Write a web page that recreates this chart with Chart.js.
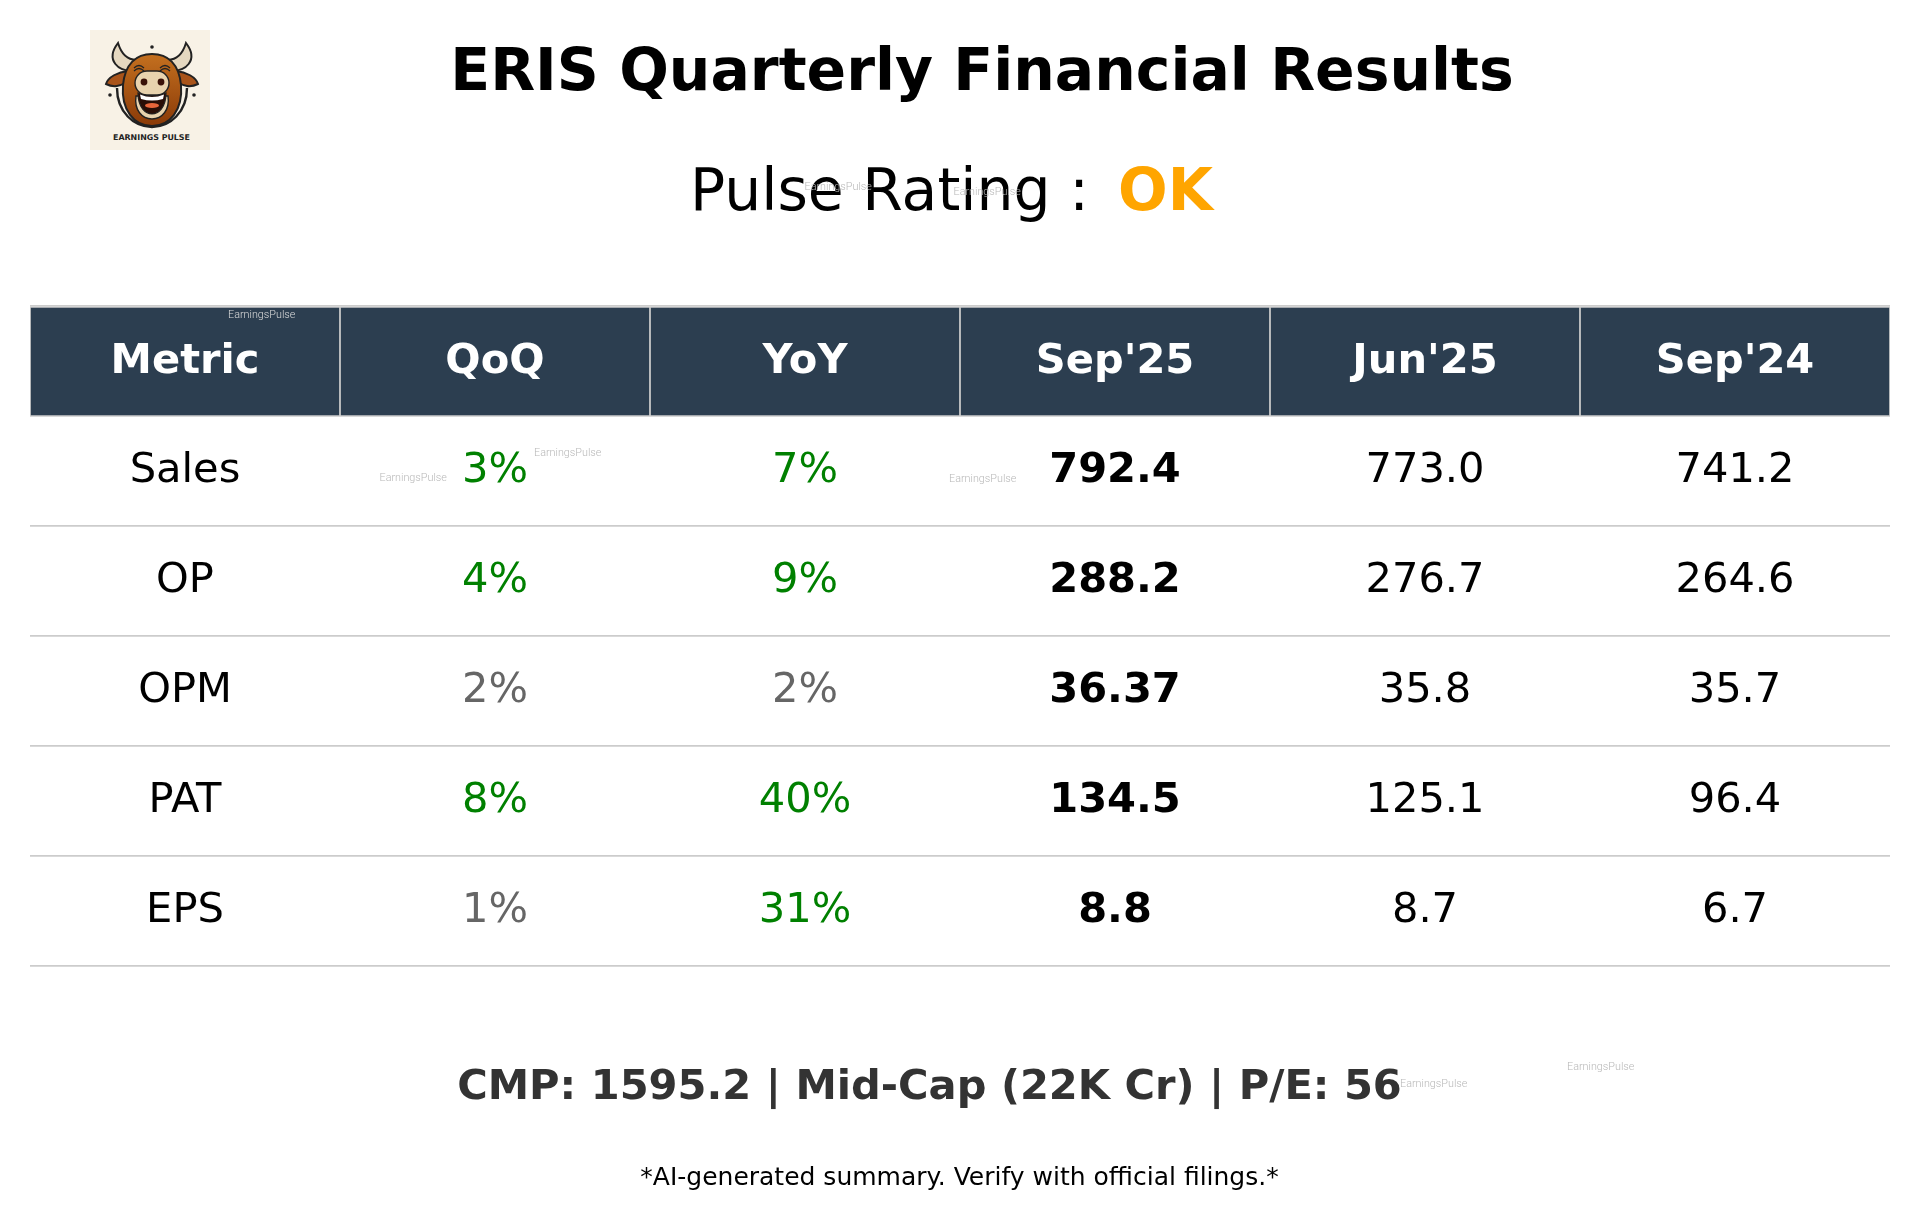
<!DOCTYPE html>
<html>
<head>
<meta charset="utf-8">
<title>ERIS Quarterly Financial Results</title>
<script src="https://cdn.jsdelivr.net/npm/chart.js@4"></script>
<style>
  html, body { margin: 0; padding: 0; background: #fff; }
  #wrap { position: relative; width: 1919px; height: 1220px; overflow: hidden; }
  #tableChart { position: absolute; left: 0; top: 0; }
  #logo { position: absolute; left: 90px; top: 30px; }
</style>
</head>
<body>
<div id="wrap">
  <canvas id="tableChart" width="1919" height="1220"></canvas>
  <svg id="logo" width="120" height="120" viewBox="0 0 120 120">
    <defs>
      <linearGradient id="face" x1="0" y1="0" x2="0" y2="1">
        <stop offset="0" stop-color="#c4701f"/>
        <stop offset="1" stop-color="#8a3a08"/>
      </linearGradient>
    </defs>
    <rect width="120" height="120" fill="#f8f2e6"/>
    <circle cx="62" cy="17" r="1.800" fill="#222"/>
    <circle cx="20" cy="65" r="1.800" fill="#222"/>
    <circle cx="104" cy="65" r="1.800" fill="#222"/>
    <path d="M28 13 C15 30 28 43 46 40 L52 29 C40 32 32 26 28 13Z" fill="#e5d8c0" stroke="#222" stroke-width="2"/>
    <path d="M96 13 C109 30 96 43 78 40 L72 29 C84 32 92 26 96 13Z" fill="#e5d8c0" stroke="#222" stroke-width="2"/>
    <path d="M38 41 C28 42 18 47 16 54 C24 58 30 56 37 52Z" fill="#a9541a" stroke="#222" stroke-width="2"/>
    <path d="M86 41 C96 42 106 47 108 54 C100 58 94 56 87 52Z" fill="#a9541a" stroke="#222" stroke-width="2"/>
    <path d="M27 58 C27 82 44 97 62 97 C80 97 97 82 97 58" fill="none" stroke="#222" stroke-width="2.400"/>
    <path d="M62 24 C46 24 35 34 33 55 C31 80 44 96 62 96 C80 96 93 80 91 55 C89 34 78 24 62 24Z" fill="url(#face)" stroke="#222" stroke-width="2"/>
    <path d="M44 38 Q49 33 54 38 M44 41 Q49 36 54 41 M70 38 Q75 33 80 38 M70 41 Q75 36 80 41" fill="none" stroke="#222" stroke-width="1.200"/>
    <path d="M46 66 C44 80 52 89 62 89 C72 89 80 80 78 66Z" fill="#e8d3ae" stroke="#222" stroke-width="1.400"/>
    <rect x="45" y="41" width="34" height="24" rx="12" fill="#e8d3ae" stroke="#222" stroke-width="1.400"/>
    <circle cx="54" cy="52" r="3.400" fill="#3a1208"/>
    <circle cx="71" cy="52" r="3.400" fill="#3a1208"/>
    <path d="M48 63 Q62 69 76 63 C76 78 68 84 62 84 C56 84 48 78 48 63Z" fill="#2a0e06" stroke="#222" stroke-width="1.200"/>
    <path d="M50 64.500 Q62 69.500 74 64.500 L73 69 Q62 72 51 69Z" fill="#fff"/>
    <ellipse cx="62" cy="75.500" rx="7" ry="2.500" fill="#e8653a"/>
    <text x="61.500" y="110" text-anchor="middle" font-family="'DejaVu Sans'" font-weight="700" font-size="7.900" fill="#222">EARNINGS PULSE</text>
  </svg>
</div>
<script>
const metrics = ['Sales', 'OP', 'OPM', 'PAT', 'EPS'];
const columnLabels = ['Metric', 'QoQ', 'YoY', "Sep'25", "Jun'25", "Sep'24"];
const qoqValues = [3, 4, 2, 8, 1];
const yoyValues = [7, 9, 2, 40, 31];
const sep25Values = ['792.4', '288.2', '36.37', '134.5', '8.8'];
const jun25Values = ['773.0', '276.7', '35.8', '125.1', '8.7'];
const sep24Values = ['741.2', '264.6', '35.7', '96.4', '6.7'];

const FONT = "'DejaVu Sans'";
const WATERMARK = 'EarningsPulse';

function pctColor(v) {
    return v > 2 ? '#008000' : '#666666';
}

function drawText(ctx, text, x, y, font, color, align) {
    ctx.font = font;
    ctx.fillStyle = color;
    ctx.textAlign = align || 'center';
    ctx.textBaseline = 'middle';
    ctx.fillText(text, x, y);
}

const tablePlugin = {
    id: 'tableText',
    afterDatasetsDraw(chart) {
        const ctx = chart.ctx;
        const xs = chart.scales.x;
        const ys = chart.scales.y;
        ctx.save();

        // header row
        columnLabels.forEach((label, j) => {
            drawText(ctx, label, xs.getPixelForValue(j), ys.getPixelForValue(0.5) + 1, 'bold 41.6px ' + FONT, '#ffffff');
        });

        // body rows
        metrics.forEach((metric, i) => {
            const y = ys.getPixelForValue(i + 1.5);
            const cell = 'normal 41.6px ' + FONT;
            drawText(ctx, metric, xs.getPixelForValue(0), y, cell, '#000000');
            drawText(ctx, qoqValues[i] + '%', xs.getPixelForValue(1), y, cell, pctColor(qoqValues[i]));
            drawText(ctx, yoyValues[i] + '%', xs.getPixelForValue(2), y, cell, pctColor(yoyValues[i]));
            drawText(ctx, sep25Values[i], xs.getPixelForValue(3), y, 'bold 41.6px ' + FONT, '#000000');
            drawText(ctx, jun25Values[i], xs.getPixelForValue(4), y, cell, '#000000');
            drawText(ctx, sep24Values[i], xs.getPixelForValue(5), y, cell, '#000000');
        });

        // titles and footer
        drawText(ctx, 'ERIS Quarterly Financial Results', 982, 75, 'bold 58.4px ' + FONT, '#000000');
        drawText(ctx, 'Pulse Rating :', 690, 195, 'normal 58.4px ' + FONT, '#000000', 'left');
        drawText(ctx, 'OK', 1118, 195, 'bold 58.4px ' + FONT, '#ffa500', 'left');
        drawText(ctx, 'CMP: 1595.2 | Mid-Cap (22K Cr) | P/E: 56', 929.5, 1088, 'bold 41.6px ' + FONT, '#333333');
        drawText(ctx, '*AI-generated summary. Verify with official filings.*', 959.5, 1178, 'normal 25px ' + FONT, '#000000');

        // watermarks, the one on the dark header is lighter
        const wm = '300 10.8px Roboto';
        drawText(ctx, WATERMARK, 228, 315, wm, '#dcdcdc', 'left');
        [[804.5, 187], [953.5, 192], [379.5, 478], [534, 453], [949, 479], [1400, 1084], [1567, 1067]].forEach(p => {
            drawText(ctx, WATERMARK, p[0], p[1], wm, '#b8b8b8', 'left');
        });

        ctx.restore();
    }
};

new Chart(document.getElementById('tableChart'), {
    type: 'bar',
    data: {
        labels: columnLabels,
        datasets: [{
            data: columnLabels.map(() => [0, 1]),
            backgroundColor: '#2c3e50',
            borderColor: '#cccccc',
            borderWidth: 1.2,
            borderSkipped: false,
            barPercentage: 1,
            categoryPercentage: 1
        }]
    },
    options: {
        responsive: false,
        devicePixelRatio: 1,
        animation: false,
        layout: { padding: { left: 30, right: 29, top: 306, bottom: 254 } },
        plugins: { legend: { display: false }, tooltip: { enabled: false }, title: { display: false } },
        scales: {
            x: {
                type: 'category',
                offset: true,
                grid: { display: false, drawTicks: false, tickLength: 0 },
                border: { display: false },
                ticks: { display: false, padding: 0 }
            },
            y: {
                type: 'linear',
                min: 0,
                max: 6,
                reverse: true,
                grid: { color: '#cccccc', lineWidth: 1.8, drawTicks: false, tickLength: 0 },
                border: { display: false },
                ticks: { display: false, stepSize: 1, padding: 0 }
            }
        }
    },
    plugins: [tablePlugin]
});
</script>
</body>
</html>
